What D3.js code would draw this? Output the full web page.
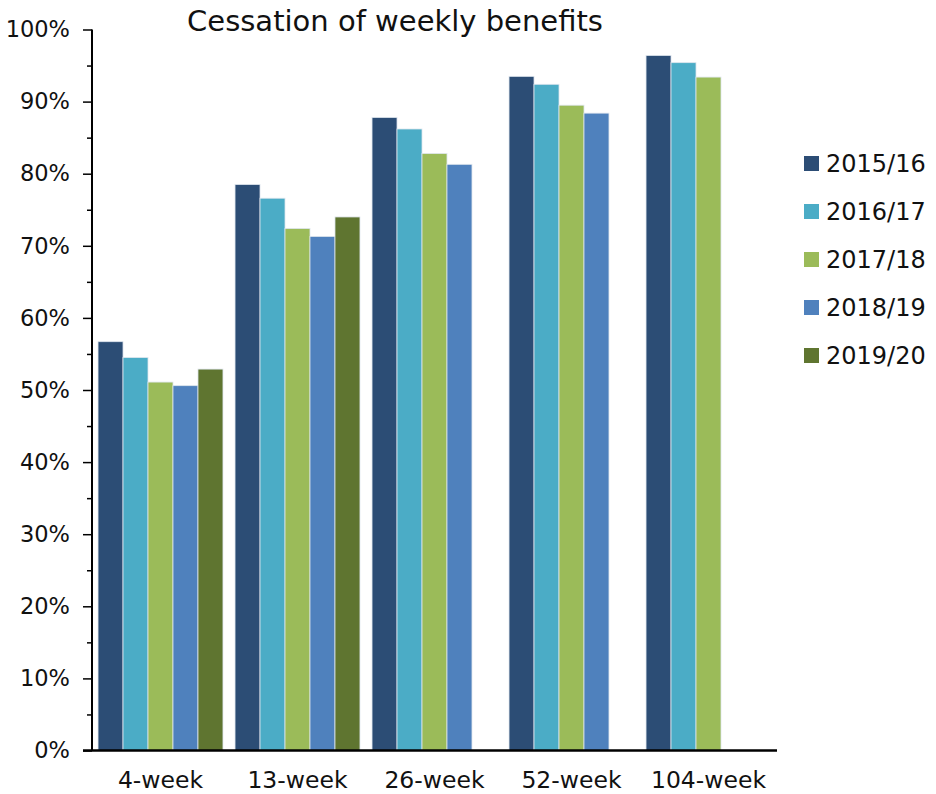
<!DOCTYPE html>
<html>
<head>
<meta charset="utf-8">
<script src="https://cdn.jsdelivr.net/npm/d3@7"></script>
<style>
  html, body { margin: 0; padding: 0; background: #fff; }
  svg { display: block; font-family: "DejaVu Sans", "Open Sans", sans-serif; }
</style>
</head>
<body>
<svg id="chart" width="936" height="794"></svg>
<script>
// Share of claims whose weekly benefits had ceased, by duration and year
const categories = ["4-week", "13-week", "26-week", "52-week", "104-week"];
const seriesNames = ["2015/16", "2016/17", "2017/18", "2018/19", "2019/20"];
const values2015 = [56.7, 78.5, 87.8, 93.5, 96.4];
const values2016 = [54.5, 76.6, 86.2, 92.4, 95.4];
const values2017 = [51.1, 72.4, 82.8, 89.5, 93.4];
const values2018 = [50.6, 71.3, 81.3, 88.4, null];
const values2019 = [52.9, 74.0, null, null, null];
const yTicks = [0, 10, 20, 30, 40, 50, 60, 70, 80, 90, 100];
const colors = ["#2C4D75", "#4BACC6", "#9BBB59", "#4F81BD", "#5F7530"];

const seriesValues = [values2015, values2016, values2017, values2018, values2019];

const svg = d3.select("#chart");

const x0 = d3.scaleBand()
  .domain(categories)
  .range([92, 777])
  .paddingInner(0.088)
  .paddingOuter(0.044);

const x1 = d3.scaleBand()
  .domain(seriesNames)
  .range([0, x0.bandwidth()]);

const y = d3.scaleLinear()
  .domain([0, 100])
  .range([750.5, 29.5]);

// Bars
const groups = svg.append("g")
  .selectAll("g")
  .data(categories)
  .join("g")
  .attr("transform", d => `translate(${x0(d)},0)`);

groups.selectAll("rect")
  .data((c, ci) => seriesNames
    .map((s, si) => ({ series: s, si, value: seriesValues[si][ci] }))
    .filter(d => d.value != null))
  .join("rect")
  .attr("x", d => x1(d.series))
  .attr("y", d => y(d.value))
  .attr("width", x1.bandwidth())
  .attr("height", d => y(0) - y(d.value))
  .attr("fill", d => colors[d.si])
  .attr("stroke", "#dfe6ee")
  .attr("stroke-width", 0.8);

// Y axis with major and minor ticks
const yAxis = svg.append("g")
  .attr("transform", "translate(92,0)")
  .call(d3.axisLeft(y).tickValues(yTicks).tickSize(9).tickPadding(13)
    .tickFormat(d => d + "%"));
yAxis.select(".domain").attr("stroke", "#000").attr("stroke-width", 2)
  .attr("d", `M0,${y(100)}V${y(0)}`);
yAxis.selectAll(".tick line").attr("stroke", "#000").attr("stroke-width", 1.5);
yAxis.selectAll(".tick text")
  .attr("font-size", 22.5).attr("fill", "#111")
  .attr("font-family", "'DejaVu Sans', sans-serif");

const minor = svg.append("g")
  .attr("transform", "translate(92,0)")
  .call(d3.axisLeft(y).tickValues(d3.range(5, 100, 10)).tickSize(5).tickFormat(""));
minor.select(".domain").remove();
minor.selectAll(".tick line").attr("stroke", "#000").attr("stroke-width", 1.5);

// X axis baseline
svg.append("line")
  .attr("x1", 83).attr("x2", 777)
  .attr("y1", y(0)).attr("y2", y(0))
  .attr("stroke", "#000").attr("stroke-width", 2.5);

// Category labels
svg.append("g")
  .selectAll("text")
  .data(categories)
  .join("text")
  .attr("x", d => x0(d) + x0.bandwidth() / 2)
  .attr("y", 788)
  .attr("text-anchor", "middle")
  .attr("font-size", 23.5)
  .attr("fill", "#111")
  .text(d => d);

// Title
svg.append("text")
  .attr("x", 395)
  .attr("y", 31)
  .attr("text-anchor", "middle")
  .attr("font-size", 29)
  .attr("fill", "#111")
  .text("Cessation of weekly benefits");

// Legend
const legend = svg.append("g")
  .selectAll("g")
  .data(seriesNames)
  .join("g")
  .attr("transform", (d, i) => `translate(804,${156 + i * 48})`);
legend.append("rect")
  .attr("width", 15).attr("height", 15)
  .attr("fill", (d, i) => colors[i]);
legend.append("text")
  .attr("x", 22)
  .attr("y", 16)
  .attr("font-size", 24)
  .attr("fill", "#111")
  .text(d => d);
</script>
</body>
</html>
